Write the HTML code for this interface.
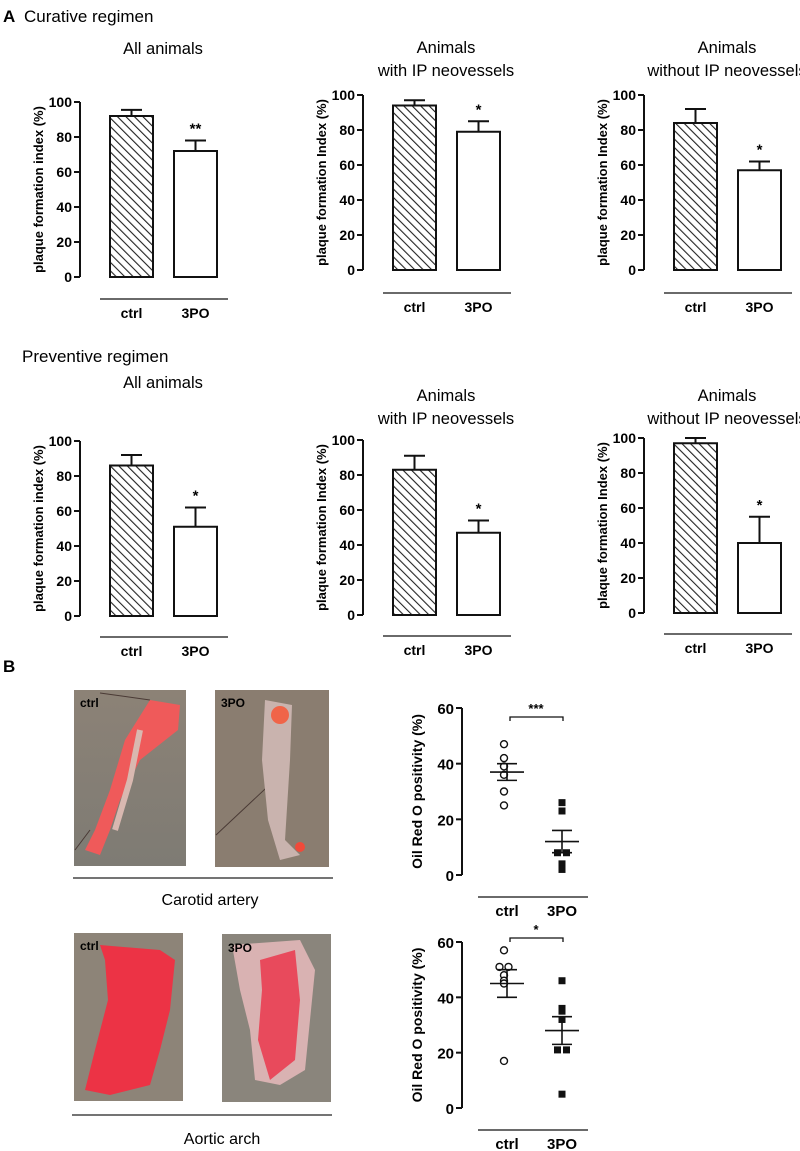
<!DOCTYPE html>
<html><head><meta charset="utf-8"><style>
html,body{margin:0;padding:0;background:#fff}
svg{display:block;font-family:"Liberation Sans",Arial,sans-serif}
</style></head><body>
<svg id="fig" width="800" height="1151" viewBox="0 0 800 1151" xmlns="http://www.w3.org/2000/svg">
<defs>
<pattern id="hatch" patternUnits="userSpaceOnUse" width="6" height="6" patternTransform="rotate(-45)">
<rect width="6" height="6" fill="#fff"/><line x1="0" y1="0" x2="0" y2="6" stroke="#222" stroke-width="2.2"/>
</pattern>
<linearGradient id="bgc" x1="0" y1="0" x2="0" y2="1"><stop offset="0" stop-color="#8c8276"/><stop offset="1" stop-color="#7e7b74"/></linearGradient>
</defs>
<text x="3" y="22" font-size="17" font-weight="bold">A</text>
<text x="24" y="22" font-size="17">Curative regimen</text>
<text x="22" y="362" font-size="17">Preventive regimen</text>
<text x="3" y="672" font-size="17" font-weight="bold">B</text>
<g id="bars"></g>
<g id="photos">
<g>
<rect x="74" y="690" width="112" height="176" fill="url(#bgc)"/>
<line x1="100" y1="693" x2="150" y2="700" stroke="#4a3a35" stroke-width="1"/>
<line x1="75" y1="850" x2="90" y2="830" stroke="#4a3a35" stroke-width="1"/>
<path d="M150 700 L180 705 L178 730 L140 760 L120 800 L110 830 L100 855 L85 850 L95 830 L110 790 L125 740 Z" fill="#ef5a5a"/>
<path d="M140 730 L130 780 L115 830" stroke="#d9b8b0" stroke-width="6" fill="none"/>
<text x="80" y="707" font-size="12" font-weight="bold">ctrl</text></g>
<g>
<rect x="215" y="690" width="114" height="177" fill="#8a7d70"/>
<line x1="216" y1="835" x2="280" y2="775" stroke="#4a3a35" stroke-width="1"/>
<path d="M265 700 L292 705 L290 760 L285 840 L300 855 L280 860 L268 820 L262 760 Z" fill="#c9b3ae"/>
<circle cx="280" cy="715" r="9" fill="#f06448"/><circle cx="300" cy="847" r="5" fill="#f04a3a"/>
<text x="221" y="707" font-size="12" font-weight="bold">3PO</text></g>
<line x1="73" y1="878" x2="333" y2="878" stroke="#222" stroke-width="1.3"/>
<text x="210" y="905" font-size="16" text-anchor="middle">Carotid artery</text>
<g>
<rect x="74" y="933" width="109" height="168" fill="#8d8478"/>
<path d="M100 945 L160 950 L175 960 L170 1010 L160 1050 L150 1085 L110 1095 L85 1090 L95 1050 L108 1000 L105 960 Z" fill="#ec3345"/>
<text x="80" y="950" font-size="12" font-weight="bold">ctrl</text></g>
<g>
<rect x="222" y="934" width="109" height="168" fill="#8a857c"/>
<path d="M232 945 L300 940 L315 970 L310 1020 L305 1070 L280 1085 L255 1080 L250 1030 L240 990 Z" fill="#d9b2b2"/>
<path d="M260 960 L295 950 L300 1000 L295 1060 L270 1080 L258 1040 L262 990 Z" fill="#e84a5c"/>
<text x="228" y="952" font-size="12" font-weight="bold">3PO</text></g>
<line x1="72" y1="1115" x2="332" y2="1115" stroke="#222" stroke-width="1.3"/>
<text x="222" y="1144" font-size="16" text-anchor="middle">Aortic arch</text>
</g>
<g id="scatters"></g>
</svg>
<script>
const NS="http://www.w3.org/2000/svg";
const barCategories=["ctrl","3PO"];
const barTitles=[["All animals"],["Animals","with IP neovessels"],["Animals","without IP neovessels"],["All animals"],["Animals","with IP neovessels"],["Animals","without IP neovessels"]];
const barMeans=[[92,72],[94,79],[84,57],[86,51],[83,47],[97,40]];
const barErrors=[[3.5,6],[3,6],[8,5],[6,11],[8,7],[3,15]];
const barStars=["**","*","*","*","*","*"];
const barTicks=[0,20,40,60,80,100];
const scatterCtrl=[[47,42,39,36,30,25],[57,51,51,48,46,45,17]];
const scatterTreat=[[26,23,8,8,4,2],[46,36,35,32,21,21,5]];
const scatterMeanSem=[[[37,3],[12,4]],[[45,5],[28,5]]];
const scatterStars=["***","*"];
const scatterTicks=[0,20,40,60];

function el(tag,attrs,parent,text){const e=document.createElementNS(NS,tag);for(const k in attrs)e.setAttribute(k,attrs[k]);if(text!==undefined)e.textContent=text;parent.appendChild(e);return e;}

const layouts=[
{ax:80,y0:277,y100:102,bl:299,tY:[54]},
{ax:363,y0:270,y100:95,bl:293,tY:[53,76]},
{ax:644,y0:270,y100:95,bl:293,tY:[53,76]},
{ax:80,y0:616,y100:441,bl:637,tY:[388]},
{ax:363,y0:615,y100:440,bl:636,tY:[401,424]},
{ax:644,y0:613,y100:438,bl:634,tY:[401,424]}];
const barsG=document.getElementById('bars');
layouts.forEach((L,i)=>{
  const g=el('g',{},barsG);
  
  
  const y=v=>L.y0-(v/100)*(L.y0-L.y100);
  const xs=[L.ax+30,L.ax+94];
  barTitles[i].forEach((t,j)=>{const tt=el('text',{x:L.ax+83,y:L.tY[j],'font-size':16.5,'text-anchor':'middle'},g,t);
    });
  el('line',{x1:L.ax,y1:y(0),x2:L.ax,y2:y(100),stroke:'#111','stroke-width':2},g);
  barTicks.forEach(t=>{el('line',{x1:L.ax-6,y1:y(t),x2:L.ax,y2:y(t),stroke:'#111','stroke-width':2},g);
    const tl=el('text',{x:L.ax-8,y:y(t)+5,'font-size':14,'font-weight':'bold','text-anchor':'end'},g,t);
    });
  const yl=el('text',{transform:`translate(${L.ax-37},${(L.y0+L.y100)/2}) rotate(-90)`,'font-size':13,'font-weight':'bold','text-anchor':'middle'},g,i==0||i==3?'plaque formation index (%)':'plaque formation Index (%)');
  
  barCategories.forEach((c,k)=>{
    const v=barMeans[i][k],e=barErrors[i][k],x=xs[k];
    const r=el('rect',{x:x,y:y(v),width:43,height:y(0)-y(v),fill:k==0?'url(#hatch)':'#fff',stroke:'#111','stroke-width':2},g);
    
    el('line',{x1:x+21.5,y1:y(v),x2:x+21.5,y2:y(v+e),stroke:'#111','stroke-width':2},g);
    el('line',{x1:x+11,y1:y(v+e),x2:x+32,y2:y(v+e),stroke:'#111','stroke-width':2},g);
    const cl=el('text',{x:x+21.5,y:L.bl+19,'font-size':14,'font-weight':'bold','text-anchor':'middle'},g,c);
    
    if(k==1){const s=el('text',{x:x+21.5,y:y(v+e)-7,'font-size':15,'font-weight':'bold','text-anchor':'middle'},g,barStars[i]);
      }
  });
  el('line',{x1:L.ax+20,y1:L.bl,x2:L.ax+148,y2:L.bl,stroke:'#111','stroke-width':1.3},g);
});

const sl=[{ax:462,y0:875,y60:708,bl:897,br:717,lab:916},{ax:462,y0:1108,y60:942,bl:1130,br:938,lab:1149}];
const scG=document.getElementById('scatters');
sl.forEach((L,i)=>{
  const g=el('g',{},scG);
  
  
  const y=v=>L.y0-(v/60)*(L.y0-L.y60);
  const xs=[507,562];
  el('line',{x1:L.ax,y1:y(0),x2:L.ax,y2:y(60),stroke:'#111','stroke-width':2},g);
  scatterTicks.forEach(t=>{el('line',{x1:L.ax-6,y1:y(t),x2:L.ax,y2:y(t),stroke:'#111','stroke-width':2},g);
    const tl=el('text',{x:L.ax-8,y:y(t)+6,'font-size':15,'font-weight':'bold','text-anchor':'end'},g,t);
    });
  const yl=el('text',{transform:`translate(${L.ax-40},${(L.y0+L.y60)/2}) rotate(-90)`,'font-size':14,'font-weight':'bold','text-anchor':'middle'},g,'Oil Red O positivity (%)');
  
  const sets=[scatterCtrl[i],scatterTreat[i]];
  sets.forEach((vals,k)=>{
    const cnt={};
    vals.forEach(v=>{cnt[v]=(cnt[v]||0)+1;});
    const seen={};
    vals.forEach(v=>{
      const n=cnt[v],idx=(seen[v]=(seen[v]||0)+1)-1;
      const off=n>1?(idx-(n-1)/2)*9:0;
      const cx=xs[k]+off-(k==0?3:0);
      let m;
      if(k==0)m=el('circle',{cx:cx,cy:y(v),r:3.5,fill:'#fff',stroke:'#111','stroke-width':1.4},g);
      else m=el('rect',{x:cx-3.5,y:y(v)-3.5,width:7,height:7,fill:'#111'},g);
      
    });
    const [mu,se]=scatterMeanSem[i][k];
    el('line',{x1:xs[k]-17,y1:y(mu),x2:xs[k]+17,y2:y(mu),stroke:'#111','stroke-width':1.6},g);
    el('line',{x1:xs[k],y1:y(mu-se),x2:xs[k],y2:y(mu+se),stroke:'#111','stroke-width':1.6},g);
    el('line',{x1:xs[k]-10,y1:y(mu-se),x2:xs[k]+10,y2:y(mu-se),stroke:'#111','stroke-width':1.6},g);
    el('line',{x1:xs[k]-10,y1:y(mu+se),x2:xs[k]+10,y2:y(mu+se),stroke:'#111','stroke-width':1.6},g);
    const cl=el('text',{x:xs[k],y:L.lab,'font-size':15,'font-weight':'bold','text-anchor':'middle'},g,barCategories[k]);
    
  });
  el('path',{d:`M510 ${L.br+4} V${L.br} H563 V${L.br+4}`,fill:'none',stroke:'#111','stroke-width':1.3},g);
  const s=el('text',{x:536,y:L.br-4,'font-size':13,'font-weight':'bold','text-anchor':'middle'},g,scatterStars[i]);
  
  el('line',{x1:478,y1:L.bl,x2:588,y2:L.bl,stroke:'#111','stroke-width':1.3},g);
});
</script>
</body></html>
